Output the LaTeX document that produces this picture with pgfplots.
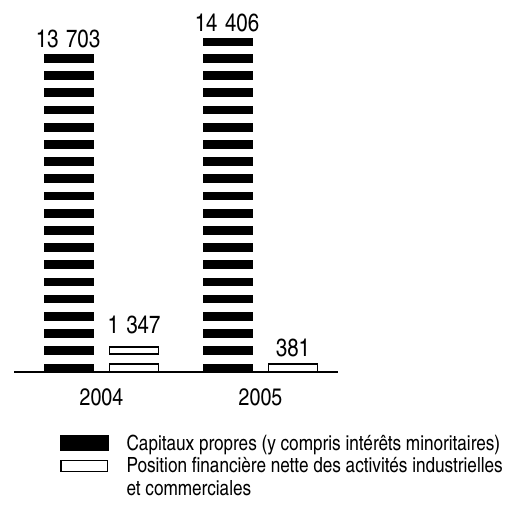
\documentclass[border=0pt]{standalone}
\usepackage{fontspec}
\setmainfont{texgyreheroscn-regular.otf}
\usepackage{pgfplots}
\pgfplotsset{compat=1.18}

% stripe geometry, all in bp
\def\stripeper{17.19}
\def\stripeh{8.7}
\def\yunit{0.023207}

% black bar: solid stripes, left of the year
\pgfdeclareplotmark{blackbar}{%
  \pgfmathsetmacro{\hh}{\barval*\yunit}%
  \pgfmathtruncatemacro{\nn}{floor(\hh/\stripeper)}%
  \pgfsetfillcolor{black}%
  \foreach \i in {0,...,\nn}{%
    \pgfmathsetmacro{\yb}{-\hh+\i*\stripeper}%
    \pgfmathsetmacro{\yt}{min(\yb+\stripeh,0)}%
    \pgfpathrectanglecorners{\pgfpoint{-57.5bp}{\yb bp}}{\pgfpoint{-7.5bp}{\yt bp}}%
    \pgfusepath{fill}%
  }%
}
% white bar: outlined stripes, right of the year
\pgfdeclareplotmark{whitebar}{%
  \pgfmathsetmacro{\hh}{\barval*\yunit}%
  \pgfmathtruncatemacro{\nn}{floor(\hh/\stripeper)}%
  \pgfsetfillcolor{white}\pgfsetstrokecolor{black}\pgfsetlinewidth{1.4bp}%
  \foreach \i in {0,...,\nn}{%
    \pgfmathsetmacro{\yb}{-\hh+\i*\stripeper+0.7}%
    \pgfmathsetmacro{\yt}{min(\yb+\stripeh-1.4,-0.7)}%
    \pgfpathrectanglecorners{\pgfpoint{8.2bp}{\yb bp}}{\pgfpoint{56.8bp}{\yt bp}}%
    \pgfusepath{fill,stroke}%
  }%
}

\begin{document}
\begin{tikzpicture}
\path[use as bounding box] (0,0) rectangle (520bp,508bp);
\begin{axis}[
  at={(14bp,136bp)}, anchor=south west, scale only axis,
  x=159bp, y=0.023207bp,
  xmin=-0.5503, xmax=1.4874, ymin=0, ymax=15500,
  axis x line=bottom, axis y line=none,
  x axis line style={-, line width=1.2bp},
  xtick={0,1}, xticklabels={2004,2005},
  xtick style={draw=none},
  xticklabel style={font=\fontsize{24}{24}\selectfont, anchor=base, yshift=-31bp},
  clip=false,
  only marks, scatter,
  scatter/@pre marker code/.code={}, scatter/@post marker code/.code={},
  visualization depends on={rawy \as \barval},
  /pgf/number format/.cd, 1000 sep={\hspace{0.3em}}, assume math mode=true,
  /pgfplots/.cd,
  nodes near coords,
  nodes near coords style={font=\fontsize{25}{25}\selectfont, anchor=base, inner sep=0pt},
  legend style={at={(0.142,-0.168)}, anchor=north west, draw=none, fill=none,
    inner sep=0pt, row sep=1.5bp,
    cells={anchor=west, align=left, inner sep=0pt},
    font=\fontsize{21}{23}\selectfont},
]
\addplot[mark=blackbar, every node near coord/.append style={xshift=-33.5bp, yshift=6.5bp},
  legend image code/.code={\fill[black] (0bp,-7.5bp) rectangle (48bp,7.5bp); \path (64bp,0bp);}]
  coordinates {(0,13703) (1,14406)};
\addplot[mark=whitebar, every node near coord/.append style={xshift=32.5bp, yshift=7bp},
  legend image code/.code={\draw[black, line width=1.4bp, fill=white] (0.7bp,5.5bp) rectangle (47.3bp,16.5bp); \path (64bp,0bp);}]
  coordinates {(0,1347) (1,381)};
\legend{Capitaux propres (y compris intérêts minoritaires),
  {Position financière nette des activités industrielles\\et commerciales}}
\end{axis}
\end{tikzpicture}
\end{document}
